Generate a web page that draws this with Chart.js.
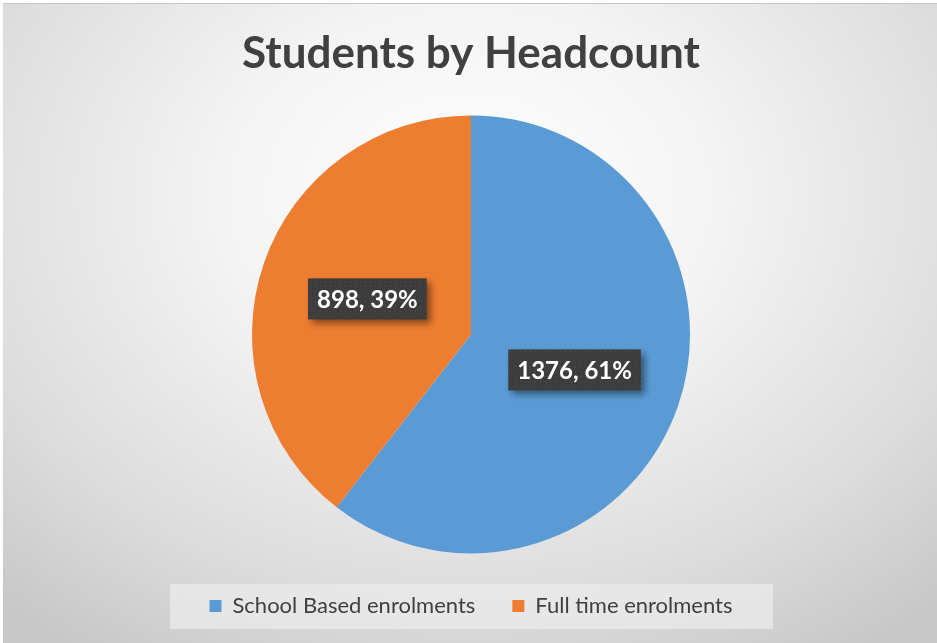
<!DOCTYPE html>
<html lang="en">
<head>
    <meta charset="UTF-8">
    <title>Students by Headcount</title>
    <style type="text/css">
        body { margin: 0; background: #ffffff; }
        .chartBox {
            position: absolute;
            left: 3px;
            top: 3px;
            width: 934px;
            height: 640px;
            border-top: 1px solid #c4c4c4;
            box-sizing: border-box;
            background: radial-gradient(ellipse 75% 85% at 50% 30%, #ffffff 0%, #f4f4f4 35%, #dcdcdc 75%, #c8c8c8 100%);
        }
    </style>
</head>
<body>
    <div class="chartBox">
        <canvas id="myChart"></canvas>
    </div>

    <script src="https://cdn.jsdelivr.net/npm/chart.js"></script>

    <script>
        const categories = ['School Based enrolments', 'Full time enrolments'];
        const headcounts = [1376, 898];
        const percents = [61, 39];
        const sliceColors = ['#5B9BD5', '#ED7D31'];

        // dotted dark fill for the data label boxes
        const dots = document.createElement('canvas');
        dots.width = 5; dots.height = 5;
        const dctx = dots.getContext('2d');
        dctx.fillStyle = '#3d3d3d';
        dctx.fillRect(0, 0, 5, 5);
        dctx.fillStyle = '#4f4f4f';
        dctx.fillRect(2, 2, 1, 1);

        const legendBg = {
            id: 'legendBg',
            beforeDraw(chart) {
                const c = chart.ctx;
                c.save();
                c.fillStyle = 'rgba(235,235,235,0.75)';
                c.fillRect(167, 580, 603, 45);
                c.restore();
            }
        };

        const boxLabels = {
            id: 'boxLabels',
            afterDatasetsDraw(chart) {
                const c = chart.ctx;
                const meta = chart.getDatasetMeta(0);
                c.save();
                c.font = 'bold 24px Lato';
                c.textAlign = 'center';
                c.textBaseline = 'middle';
                meta.data.forEach((arc, i) => {
                    const p = arc.tooltipPosition();
                    const txt = headcounts[i] + ', ' + percents[i] + '%';
                    const w = c.measureText(txt).width + 18;
                    const h = 41;
                    c.save();
                    c.shadowColor = 'rgba(0,0,0,0.45)';
                    c.shadowBlur = 7;
                    c.shadowOffsetX = 4;
                    c.shadowOffsetY = 4;
                    c.fillStyle = c.createPattern(dots, 'repeat');
                    c.fillRect(p.x - w / 2, p.y - h / 2, w, h);
                    c.restore();
                    c.fillStyle = '#ffffff';
                    c.fillText(txt, p.x, p.y + 1);
                });
                c.restore();
            }
        };

        const ctx = document.getElementById('myChart');
        new Chart(ctx, {
            type: 'pie',
            data: {
                labels: categories,
                datasets: [{
                    data: headcounts,
                    backgroundColor: sliceColors,
                    borderColor: '#ffffff',
                    borderWidth: 0,
                    radius: 219
                }]
            },
            options: {
                responsive: true,
                maintainAspectRatio: false,
                animation: false,
                layout: {
                    padding: { top: 0, bottom: 16, left: 2, right: 0 }
                },
                plugins: {
                    title: {
                        display: true,
                        text: 'Students by Headcount',
                        color: '#404040',
                        font: { family: 'Lato', size: 44, weight: 'bold' },
                        padding: { top: 23, bottom: 31 }
                    },
                    legend: {
                        position: 'bottom',
                        labels: {
                            color: '#404040',
                            font: { family: 'Lato', size: 22 },
                            boxWidth: 12,
                            boxHeight: 12,
                            padding: 37
                        }
                    },
                    tooltip: { enabled: false }
                }
            },
            plugins: [legendBg, boxLabels]
        });
    </script>
</body>
</html>
